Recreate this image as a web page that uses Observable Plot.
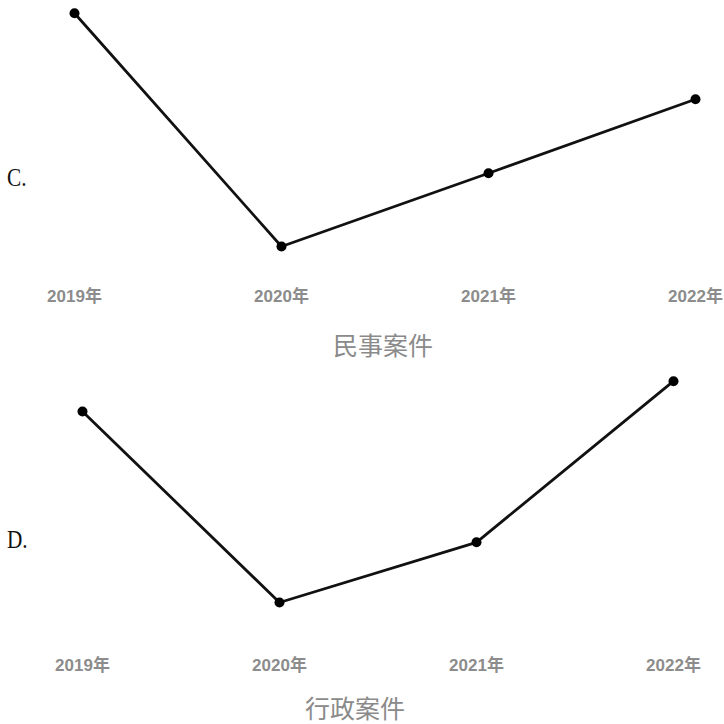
<!DOCTYPE html>
<html>
<head>
<meta charset="utf-8">
<script src="https://cdn.jsdelivr.net/npm/d3@7"></script>
<script src="https://cdn.jsdelivr.net/npm/@observablehq/plot@0.6"></script>
<style>
  html, body { margin: 0; padding: 0; background: #fff; }
  #wrap { position: relative; width: 724px; height: 724px; overflow: hidden; }
  .panel { position: absolute; left: 0; width: 724px; height: 362px; }
  .panel svg { position: absolute; left: 0; top: 0; }
  .opt { position: absolute; font-family: "Liberation Serif", serif; font-size: 25px; color: #111; transform: scaleX(0.85); transform-origin: left top; }
  .ttl { position: absolute; font-family: "Noto Sans CJK SC", sans-serif; font-size: 25px; color: #8a8a8a; transform: translateX(-50%); white-space: nowrap; }
</style>
</head>
<body>
<div id="wrap">
  <div class="panel" id="pc" style="top:0"></div>
  <div class="panel" id="pd" style="top:362px"></div>
</div>
<script>
// categories
const years = ["2019年", "2020年", "2021年", "2022年"];
// relative values (no y axis shown; 0–100 index)
const civilValues = [100, 0, 31.4, 63.1];
const adminValues = [86.3, 0, 27.2, 100];
const civilTitle = "民事案件";
const adminTitle = "行政案件";
const optionLabels = ["C.", "D."];

function panel(values, cfg) {
  const data = years.map((y, i) => ({year: y, value: values[i]}));
  return Plot.plot({
    width: 724,
    height: 362,
    marginTop: cfg.top,
    marginBottom: 362 - cfg.bottom,
    marginLeft: cfg.left,
    marginRight: 724 - cfg.right,
    x: {type: "point", domain: years, range: [cfg.left, cfg.right], padding: 0},
    y: {domain: [0, 100], range: [cfg.bottom, cfg.top], axis: null},
    marks: [
      Plot.axisX({tickSize: 0, tickPadding: cfg.pad, fontSize: 17, fontWeight: "bold", fill: "#8c8c8c", label: null,
        fontFamily: "'Liberation Sans', 'Noto Sans CJK SC', sans-serif"}),
      Plot.line(data, {x: "year", y: "value", stroke: "#111", strokeWidth: 2.8}),
      Plot.dot(data, {x: "year", y: "value", r: 5, fill: "#000"})
    ]
  });
}

const pc = document.getElementById("pc");
pc.appendChild(panel(civilValues, {top: 12.7, bottom: 246, left: 74, right: 695, pad: 43}));
const pd = document.getElementById("pd");
pd.appendChild(panel(adminValues, {top: 18.7, bottom: 240, left: 81, right: 673, pad: 56}));

function addDiv(parent, cls, text, style) {
  const d = document.createElement("div");
  d.className = cls;
  d.textContent = text;
  Object.assign(d.style, style);
  parent.appendChild(d);
}
addDiv(pc, "opt", optionLabels[0], {left: "7px", top: "164px"});
addDiv(pd, "opt", optionLabels[1], {left: "7px", top: "164px"});
addDiv(pc, "ttl", civilTitle, {left: "383px", top: "326px"});
addDiv(pd, "ttl", adminTitle, {left: "355px", top: "327px"});
</script>
</body>
</html>
